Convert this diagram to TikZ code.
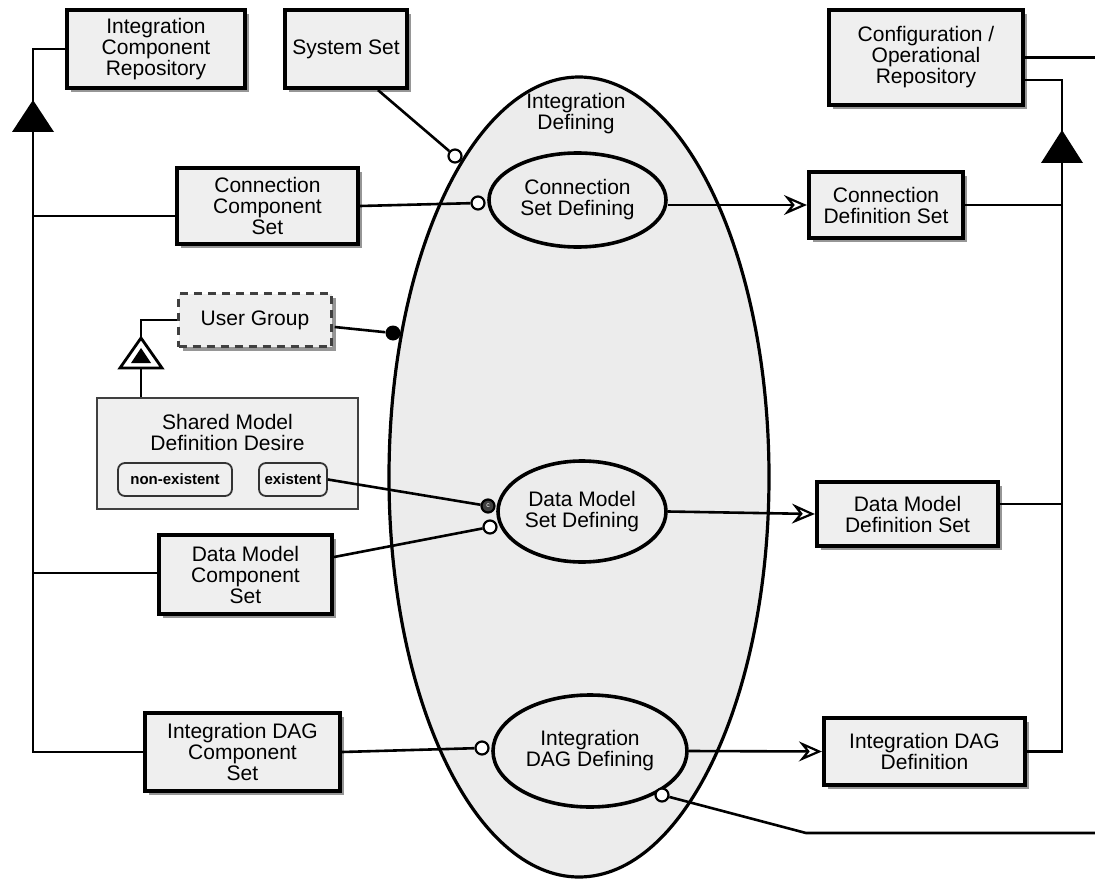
\documentclass[tikz,border=0pt]{standalone}
\usepackage{fontspec}
\setmainfont{Liberation Sans}
\usetikzlibrary{shapes.geometric,arrows.meta,shadows,calc}
\definecolor{boxfill}{HTML}{EFEFEF}
\definecolor{ellfill}{HTML}{ECECEC}
\begin{document}
\begin{tikzpicture}[x=1pt,y=-1pt,
  lbl/.style={font=\fontsize{21}{21}\selectfont, align=center, text=black},
  objbox/.style={lbl, rectangle, draw=black, line width=4.2pt, fill=boxfill, inner sep=0pt,
    drop shadow={shadow xshift=4pt, shadow yshift=-4pt, fill=black!55, opacity=0.75}},
  envbox/.style={objbox, draw=black!75, line width=2.4pt, dash pattern=on 8pt off 6pt},
  statebox/.style={rectangle, rounded corners=7pt, draw=black!80, line width=1.8pt, fill=boxfill,
    inner sep=0pt, font=\fontsize{15}{15}\selectfont\bfseries},
  proc/.style={lbl, ellipse, draw=black, line width=3.6pt, fill=ellfill, inner sep=0pt},
  conn/.style={line width=2.6pt, draw=black},
  arr/.style={-{Stealth[open, length=23pt, width=20pt, inset=8pt, line width=2.2pt, fill=white]}},
  instr/.style={circle, draw=black, line width=2.2pt, fill=white, minimum size=13pt, inner sep=0pt},
  agentdot/.style={circle, fill=black, minimum size=15pt, inner sep=0pt},
  cond/.style={circle, draw=black, line width=2.2pt, fill=black!75, minimum size=13pt, inner sep=0pt,
    text=white, font=\fontsize{7}{7}\selectfont}
]
\useasboundingbox (0,0) rectangle (1095,880);

% the enclosing process and its sub-processes
\node[proc, line width=3.2pt, minimum width=380pt, minimum height=800pt] (big) at (579,477) {};
\node[lbl] (bigtitle) at (576,114) {Integration\\Defining};
\node[proc, minimum width=177pt, minimum height=94pt] (csd) at (577.5,200) {Connection\\Set Defining};
\node[proc, minimum width=168pt, minimum height=101pt] (dmsd) at (582,511.5) {Data Model\\Set Defining};
\node[proc, minimum width=194pt, minimum height=112pt] (dagd) at (590,751) {Integration\\DAG Defining};

% objects
\node[objbox, minimum width=178pt, minimum height=78pt] (icr) at (156,49) {Integration\\Component\\Repository};
\node[objbox, minimum width=122pt, minimum height=78pt] (sys) at (346,49) {System Set};
\node[objbox, minimum width=181pt, minimum height=76pt] (ccs) at (267.5,206) {Connection\\Component\\Set};
\node[envbox, minimum width=153pt, minimum height=53pt] (ug) at (255,320) {User Group};
\node[rectangle, draw=black!75, line width=1.8pt, fill=boxfill, minimum width=261pt, minimum height=111pt, inner sep=0pt] (smd) at (227.5,453.5) {};
\node[lbl] (smdtitle) at (227.5,432) {Shared Model\\Definition Desire};
\node[statebox, minimum width=114pt, minimum height=33pt] (nonex) at (175,479.5) {non-existent};
\node[statebox, minimum width=68pt, minimum height=33pt] (ex) at (293,479.5) {existent};
\node[objbox, minimum width=173pt, minimum height=79pt] (dmcs) at (245.5,574.5) {Data Model\\Component\\Set};
\node[objbox, minimum width=195pt, minimum height=78pt] (dagcs) at (242.5,752) {Integration DAG\\Component\\Set};
\node[objbox, minimum width=194pt, minimum height=95pt] (cor) at (926,57.5) {Configuration /\\Operational\\Repository};
\node[objbox, minimum width=154pt, minimum height=66pt] (cds) at (886,205) {Connection\\Definition Set};
\node[objbox, minimum width=181pt, minimum height=64pt] (dmds) at (907.5,514) {Data Model\\Definition Set};
\node[objbox, minimum width=201pt, minimum height=67pt] (dagdef) at (924.5,751.5) {Integration DAG\\Definition};

% link ends on the processes
\node[instr] (csys) at (455,156) {};
\node[instr] (cccs) at (478,203) {};
\node[agentdot] (dug) at (393,333) {};
\node[cond] (cex) at (488,506) {c};
\node[instr] (cdmcs) at (490,527) {};
\node[instr] (cdagcs) at (482,748) {};
\node[instr] (cdagd) at (662,795) {};

% free ends and bus corners
\coordinate (lt) at (33,49);
\coordinate (lb) at (33,752);
\coordinate (rt) at (1062,80);
\coordinate (rb) at (1062,751.5);
\coordinate (corout) at (1095,57.5);
\coordinate (bend) at (806,833);
\coordinate (botout) at (1095,833);

% instrument and agent links
\draw[conn] ([xshift=32pt]sys.south) -- (csys);
\draw[conn] (ccs.east) -- (cccs);
\draw[conn] ($(ug.east)+(2,7)$) -- (dug);
\draw[conn] (ex.east) -- (cex);
\draw[conn] ($(dmcs.east)+(0,-17.5)$) -- (cdmcs);
\draw[conn] (dagcs.east) -- (cdagcs);
\draw[conn] (cdagd) -- (bend) -- (botout);

% result links
\draw[conn, arr] (csd.east |- cds.west) -- (cds.west);
\draw[conn, arr] (dmsd.east) -- (dmds.west);
\draw[conn, arr] (dagd.east) -- (dagdef.west);

% left aggregation bus
\draw[conn] (icr.west) -- (lt) -- (lb) -- (dagcs.west);
\coordinate (ccsl) at ($(ccs.west)+(0,10)$);
\draw[conn] (ccsl) -- (ccsl -| lt);
\coordinate (dmcsl) at ($(dmcs.west)+(0,-1.5)$);
\draw[conn] (dmcsl) -- (dmcsl -| lt);
\fill[black] (33,100) -- (54,132) -- (12,132) -- cycle;

% right aggregation bus
\draw[conn] (cor.east) -- (corout);
\coordinate (corl) at ($(cor.east)+(0,22.5)$);
\draw[conn] (corl) -- (rt) -- (rb) -- (dagdef.east);
\draw[conn] (cds.east) -- (cds.east -| rt);
\coordinate (dmdsr) at ($(dmds.east)+(0,-10)$);
\draw[conn] (dmdsr) -- (dmdsr -| rt);
\fill[black] (1062,130) -- (1083,163) -- (1041,163) -- cycle;

% exhibition of the user group by the desire
\coordinate (smdtop) at (141,397);
\draw[conn] (smdtop) -- (141,368);
\draw[conn] (141,338) -- (141,320) -- (ug.west);
\draw[line width=2.8pt, fill=white, line join=miter] (141,338) -- (162,368) -- (120,368) -- cycle;
\fill[black] (141,348) -- (151,363) -- (131,363) -- cycle;
\end{tikzpicture}
\end{document}
